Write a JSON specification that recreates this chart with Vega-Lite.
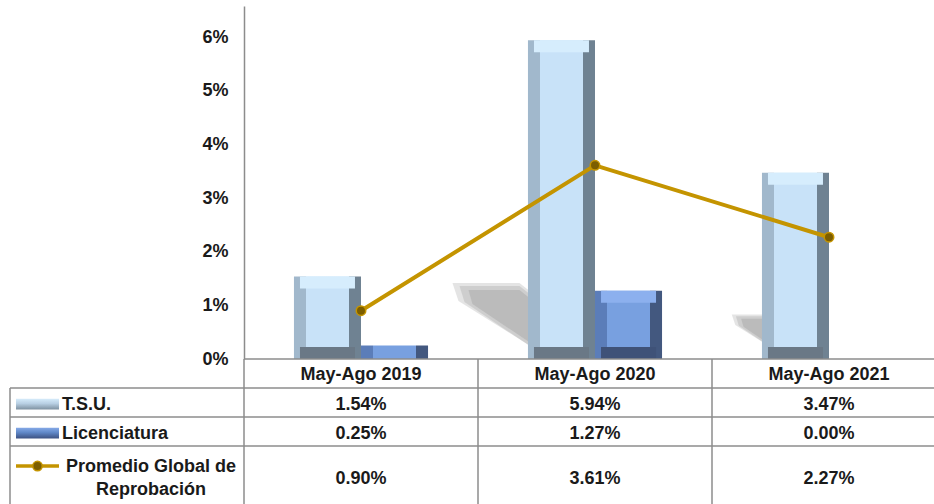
{
  "$schema": "https://vega.github.io/schema/vega-lite/v6.json",
  "padding": {"left": 9, "top": 6, "right": 0, "bottom": 0},
  "background": "white",
  "spacing": 0,
  "bounds": "flush",
  "config": {
    "view": {"stroke": null},
    "font": "Liberation Sans",
    "text": {"font": "Liberation Sans", "fontWeight": "bold", "fontSize": 18, "color": "#1a1a1a"}
  },
  "datasets": {
    "tabla": [
      {"periodo": "May-Ago 2019", "serie": "T.S.U.", "valor": 0.0154},
      {"periodo": "May-Ago 2020", "serie": "T.S.U.", "valor": 0.0594},
      {"periodo": "May-Ago 2021", "serie": "T.S.U.", "valor": 0.0347},
      {"periodo": "May-Ago 2019", "serie": "Licenciatura", "valor": 0.0025},
      {"periodo": "May-Ago 2020", "serie": "Licenciatura", "valor": 0.0127},
      {"periodo": "May-Ago 2021", "serie": "Licenciatura", "valor": 0.0},
      {"periodo": "May-Ago 2019", "serie": "Promedio Global de Reprobación", "valor": 0.009},
      {"periodo": "May-Ago 2020", "serie": "Promedio Global de Reprobación", "valor": 0.0361},
      {"periodo": "May-Ago 2021", "serie": "Promedio Global de Reprobación", "valor": 0.0227}
    ]
  },
  "vconcat": [
    {
      "width": 925,
      "height": 353,
      "data": {"name": "tabla"},
      "encoding": {
        "x": {"field": "periodo", "type": "nominal", "scale": {"domain": ["_label", "May-Ago 2019", "May-Ago 2020", "May-Ago 2021"], "range": [0, 936], "paddingInner": 0.427, "paddingOuter": 0.2135}, "axis": null},
        "y": {"field": "valor", "type": "quantitative", "scale": {"domain": [0, 0.0658], "nice": false, "zero": true},
          "axis": {"offset": -234, "values": [0, 0.01, 0.02, 0.03, 0.04, 0.05, 0.06], "format": ".0%", "ticks": false, "grid": false, "domainColor": "#8c8c8c", "domainWidth": 1.5, "labelPadding": 16, "labelFont": "Liberation Sans", "labelFontWeight": "bold", "labelFontSize": 18, "labelColor": "#1a1a1a", "title": null}}
      },
      "layer": [
        {
          "transform": [{"filter": "datum.serie === 'T.S.U.' && datum.valor > 0"}],
          "mark": {"type": "point", "filled": true, "opacity": 0.3, "strokeWidth": 0, "xOffset": -33.5, "clip": true, "fill": "#a5a5a5",
            "shape": "M-1.09,-0.76L-0.42,-0.76L0.05,-0.39L0.05,0L-0.10,0L-1.03,-0.58Z"},
          "encoding": {
            "xOffset": {"field": "serie", "type": "nominal", "scale": {"domain": ["T.S.U.", "Licenciatura"], "paddingInner": 0, "paddingOuter": 0}},
            "y": {"datum": 0, "type": "quantitative"},
            "size": {"field": "valor", "type": "quantitative", "scale": {"type": "pow", "exponent": 2, "domain": [0, 0.0594], "range": [0, 40000]}, "legend": null}
          }
        },
        {
          "transform": [{"filter": "datum.serie === 'T.S.U.' && datum.valor > 0"}],
          "mark": {"type": "point", "filled": true, "opacity": 0.35, "strokeWidth": 0, "xOffset": -33.5, "clip": true, "fill": "#a5a5a5",
            "shape": "M-1.02,-0.73L-0.42,-0.73L0,-0.40L0,-0.01L-0.14,-0.01L-0.97,-0.57Z"},
          "encoding": {
            "xOffset": {"field": "serie", "type": "nominal"},
            "y": {"datum": 0, "type": "quantitative"},
            "size": {"field": "valor", "type": "quantitative", "legend": null}
          }
        },
        {
          "transform": [{"filter": "datum.serie === 'T.S.U.' && datum.valor > 0"}],
          "mark": {"type": "point", "filled": true, "opacity": 0.45, "strokeWidth": 0, "xOffset": -33.5, "clip": true, "fill": "#a5a5a5",
            "shape": "M-0.93,-0.69L-0.42,-0.69L-0.07,-0.41L-0.07,-0.08L-0.19,-0.08L-0.89,-0.55Z"},
          "encoding": {
            "xOffset": {"field": "serie", "type": "nominal"},
            "y": {"datum": 0, "type": "quantitative"},
            "size": {"field": "valor", "type": "quantitative", "legend": null}
          }
        },
        {
          "transform": [{"filter": "datum.serie === 'T.S.U.' && datum.valor > 0"}],
          "mark": {"type": "bar", "fill": {"gradient": "linear", "x1": 0, "y1": 0, "x2": 1, "y2": 0, "stops": [
            {"offset": 0, "color": "#a1b8cc"}, {"offset": 0.18, "color": "#a1b8cc"},
            {"offset": 0.18, "color": "#c8e2f8"}, {"offset": 0.82, "color": "#c8e2f8"},
            {"offset": 0.82, "color": "#6f8292"}, {"offset": 1, "color": "#6f8292"}]}},
          "encoding": {"xOffset": {"field": "serie", "type": "nominal"}}
        },
        {
          "transform": [{"filter": "datum.serie === 'T.S.U.' && datum.valor > 0.005"}],
          "mark": {"type": "bar", "fill": "#6a7886", "yOffset": -12, "width": 55},
          "encoding": {"xOffset": {"field": "serie", "type": "nominal"}, "y": {"datum": 0, "type": "quantitative"}, "y2": {"datum": 0}}
        },
        {
          "transform": [{"filter": "datum.serie === 'T.S.U.' && datum.valor > 0.005"}],
          "mark": {"type": "bar", "fill": "#d6edfd", "y2Offset": 12, "width": 55},
          "encoding": {"xOffset": {"field": "serie", "type": "nominal"}, "y2": {"field": "valor"}}
        },
        {
          "transform": [{"filter": "datum.serie === 'Licenciatura' && datum.valor > 0"}],
          "mark": {"type": "bar", "fill": {"gradient": "linear", "x1": 0, "y1": 0, "x2": 1, "y2": 0, "stops": [
            {"offset": 0, "color": "#5b7db9"}, {"offset": 0.18, "color": "#5b7db9"},
            {"offset": 0.18, "color": "#78a0e0"}, {"offset": 0.82, "color": "#78a0e0"},
            {"offset": 0.82, "color": "#43587f"}, {"offset": 1, "color": "#43587f"}]}},
          "encoding": {"xOffset": {"field": "serie", "type": "nominal"}}
        },
        {
          "transform": [{"filter": "datum.serie === 'Licenciatura' && datum.valor > 0.005"}],
          "mark": {"type": "bar", "fill": "#3f5278", "yOffset": -12, "width": 55},
          "encoding": {"xOffset": {"field": "serie", "type": "nominal"}, "y": {"datum": 0, "type": "quantitative"}, "y2": {"datum": 0}}
        },
        {
          "transform": [{"filter": "datum.serie === 'Licenciatura' && datum.valor > 0.005"}],
          "mark": {"type": "bar", "fill": "#8cb0ee", "y2Offset": 12, "width": 55},
          "encoding": {"xOffset": {"field": "serie", "type": "nominal"}, "y2": {"field": "valor"}}
        },
        {
          "transform": [{"filter": "datum.serie === 'Promedio Global de Reprobación'"}],
          "mark": {"type": "line", "color": "#c49400", "strokeWidth": 4}
        },
        {
          "transform": [{"filter": "datum.serie === 'Promedio Global de Reprobación'"}],
          "mark": {"type": "point", "filled": true, "size": 90, "fill": "#7c5e00", "stroke": "#c49400", "strokeWidth": 1.5, "opacity": 1}
        }
      ]
    },
    {
      "width": 925,
      "height": 145,
      "data": {"name": "tabla"},
      "layer": [
        {
          "transform": [{"filter": "datum.periodo === 'May-Ago 2019'"}],
          "mark": {"type": "rule", "color": "#8c8c8c", "strokeWidth": 1.5},
          "encoding": {
            "y": {"field": "serie", "type": "nominal", "bandPosition": 0, "scale": {"domain": ["h", "T.S.U.", "Licenciatura", "Promedio Global de Reprobación", "p2"], "paddingInner": 0, "paddingOuter": 0}, "axis": null}
          }
        },
        {
          "transform": [{"filter": "datum.serie === 'T.S.U.'"}],
          "mark": {"type": "rule", "color": "#8c8c8c", "strokeWidth": 1.5},
          "encoding": {
            "x": {"field": "periodo", "type": "nominal", "bandPosition": 0, "scale": {"domain": ["_label", "May-Ago 2019", "May-Ago 2020", "May-Ago 2021"], "range": [0, 936], "paddingInner": 0, "paddingOuter": 0}, "axis": null},
            "y": {"datum": "h", "type": "nominal", "bandPosition": 0, "axis": null},
            "y2": {"value": "height"}
          }
        },
        {
          "transform": [{"filter": "datum.serie === 'T.S.U.' && datum.periodo === 'May-Ago 2019'"}],
          "mark": {"type": "rule", "color": "#8c8c8c", "strokeWidth": 1.5},
          "encoding": {
            "x": {"datum": "May-Ago 2019", "type": "nominal", "bandPosition": 0, "axis": null},
            "x2": {"value": "width"},
            "y": {"datum": "h", "type": "nominal", "bandPosition": 0, "axis": null}
          }
        },
        {
          "transform": [{"filter": "datum.serie === 'T.S.U.' && datum.periodo === 'May-Ago 2019'"}],
          "mark": {"type": "rule", "color": "#8c8c8c", "strokeWidth": 1.5},
          "encoding": {
            "x": {"datum": "_label", "type": "nominal", "bandPosition": 0, "axis": null},
            "y": {"datum": "T.S.U.", "type": "nominal", "bandPosition": 0, "axis": null},
            "y2": {"value": "height"}
          }
        },
        {
          "transform": [{"filter": "datum.serie === 'T.S.U.'"}],
          "mark": {"type": "text", "dy": 1},
          "encoding": {
            "x": {"field": "periodo", "type": "nominal", "axis": null},
            "y": {"datum": "h", "type": "nominal", "axis": null},
            "text": {"field": "periodo"}
          }
        },
        {
          "transform": [{"filter": "datum.serie !== 'Promedio Global de Reprobación'"}],
          "mark": {"type": "text", "dy": 2},
          "encoding": {
            "x": {"field": "periodo", "type": "nominal", "axis": null},
            "y": {"field": "serie", "type": "nominal", "axis": null},
            "text": {"field": "valor", "format": ".2%"}
          }
        },
        {
          "transform": [{"filter": "datum.serie === 'Promedio Global de Reprobación'"}],
          "mark": {"type": "text", "dy": 4},
          "encoding": {
            "x": {"field": "periodo", "type": "nominal", "axis": null},
            "y": {"field": "serie", "type": "nominal", "bandPosition": 1, "axis": null},
            "text": {"field": "valor", "format": ".2%"}
          }
        },
        {
          "transform": [{"filter": "datum.periodo === 'May-Ago 2019' && datum.serie !== 'Promedio Global de Reprobación'"}],
          "mark": {"type": "text", "align": "left", "dx": 52, "dy": 2},
          "encoding": {
            "x": {"datum": "_label", "type": "nominal", "bandPosition": 0, "axis": null},
            "y": {"field": "serie", "type": "nominal", "axis": null},
            "text": {"field": "serie"}
          }
        },
        {
          "transform": [{"filter": "datum.periodo === 'May-Ago 2019' && datum.serie === 'Promedio Global de Reprobación'"}],
          "mark": {"type": "text", "align": "center", "dx": 141, "dy": 1, "lineHeight": 23, "baseline": "middle"},
          "encoding": {
            "x": {"datum": "_label", "type": "nominal", "bandPosition": 0, "axis": null},
            "y": {"field": "serie", "type": "nominal", "bandPosition": 0.69, "axis": null},
            "text": {"value": ["Promedio Global de", "Reprobación"]}
          }
        },
        {
          "transform": [{"filter": "datum.periodo === 'May-Ago 2019' && datum.serie === 'T.S.U.'"}],
          "mark": {"type": "point", "shape": "M-1,-0.25H1V0.25H-1Z", "size": 1849, "filled": true, "opacity": 1, "strokeWidth": 0, "xOffset": 27.5, "yOffset": 1.5,
            "fill": {"gradient": "linear", "x1": 0, "y1": 0, "x2": 0, "y2": 1, "stops": [{"offset": 0, "color": "#d6ecfb"}, {"offset": 0.45, "color": "#b9d0e4"}, {"offset": 1, "color": "#7f92a2"}]}},
          "encoding": {
            "x": {"datum": "_label", "type": "nominal", "bandPosition": 0, "axis": null},
            "y": {"field": "serie", "type": "nominal", "axis": null}
          }
        },
        {
          "transform": [{"filter": "datum.periodo === 'May-Ago 2019' && datum.serie === 'Licenciatura'"}],
          "mark": {"type": "point", "shape": "M-1,-0.25H1V0.25H-1Z", "size": 1849, "filled": true, "opacity": 1, "strokeWidth": 0, "xOffset": 27.5, "yOffset": 1.5,
            "fill": {"gradient": "linear", "x1": 0, "y1": 0, "x2": 0, "y2": 1, "stops": [{"offset": 0, "color": "#86aae8"}, {"offset": 0.45, "color": "#6088c8"}, {"offset": 1, "color": "#3d5283"}]}},
          "encoding": {
            "x": {"datum": "_label", "type": "nominal", "bandPosition": 0, "axis": null},
            "y": {"field": "serie", "type": "nominal", "axis": null}
          }
        },
        {
          "transform": [{"filter": "datum.periodo === 'May-Ago 2019' && datum.serie === 'Promedio Global de Reprobación'"}],
          "mark": {"type": "point", "shape": "M-1,-0.085H1V0.085H-1Z", "size": 1849, "filled": true, "opacity": 1, "strokeWidth": 0, "xOffset": 27.5, "fill": "#c49400"},
          "encoding": {
            "x": {"datum": "_label", "type": "nominal", "bandPosition": 0, "axis": null},
            "y": {"field": "serie", "type": "nominal", "bandPosition": 0.69, "axis": null}
          }
        },
        {
          "transform": [{"filter": "datum.periodo === 'May-Ago 2019' && datum.serie === 'Promedio Global de Reprobación'"}],
          "mark": {"type": "point", "size": 90, "filled": true, "opacity": 1, "fill": "#7c5e00", "stroke": "#c49400", "strokeWidth": 1.5, "xOffset": 27.5},
          "encoding": {
            "x": {"datum": "_label", "type": "nominal", "bandPosition": 0, "axis": null},
            "y": {"field": "serie", "type": "nominal", "bandPosition": 0.69, "axis": null}
          }
        }
      ]
    }
  ]
}
